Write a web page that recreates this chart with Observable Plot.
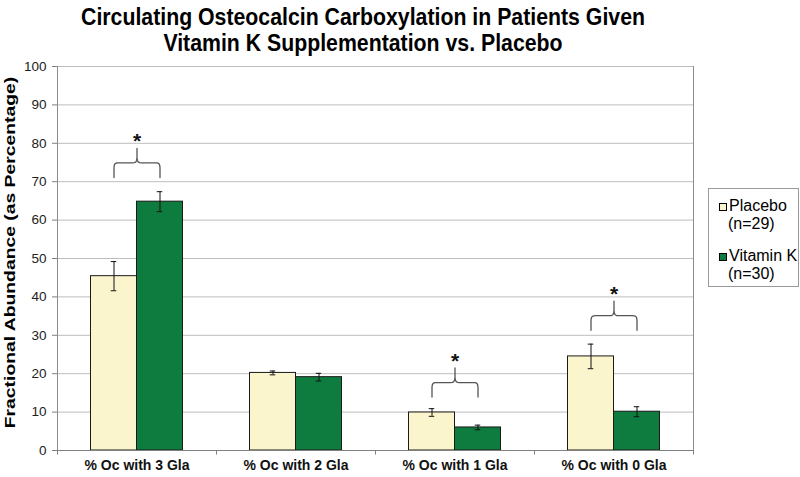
<!DOCTYPE html>
<html>
<head>
<meta charset="utf-8">
<script src="https://cdn.jsdelivr.net/npm/d3@7"></script>
<script src="https://cdn.jsdelivr.net/npm/@observablehq/plot@0.6"></script>
<style>
  body { margin: 0; background: #fff; font-family: "Liberation Sans", Arial, sans-serif; }
  #wrap { position: relative; width: 800px; height: 477px; overflow: hidden; background: #fff; }
  #chart { position: absolute; left: 0; top: 0; }
  #title { position: absolute; left: 13px; top: 4px; width: 700px; text-align: center;
           font-weight: bold; font-size: 23px; line-height: 26px; color: #000; white-space: nowrap;
           transform: scaleX(0.925); transform-origin: 50% 50%; }
  #ylabel { position: absolute; left: -170px; top: 244px; width: 360px; height: 17px; line-height: 17px;
            text-align: center; font-weight: bold; font-size: 14px; color: #000; white-space: nowrap;
            transform: rotate(-90deg) scale(1.38, 1); transform-origin: 50% 50%; }
  #legend { position: absolute; left: 708px; top: 188px; width: 89px; height: 97px;
            border: 1px solid #9a9a9a; background: #fff; }
  #legend .sw { position: absolute; width: 6px; height: 6px; border: 1px solid #000; }
  #legend .tx { position: absolute; font-size: 16px; line-height: 18px; color: #000; white-space: nowrap; }
</style>
</head>
<body>
<div id="wrap">
  <div id="chart"></div>
  <div id="title">Circulating Osteocalcin Carboxylation in Patients Given<br>Vitamin K Supplementation vs. Placebo</div>
  <div id="ylabel">Fractional Abundance (as Percentage)</div>
  <div id="legend"></div>
</div>
<script>
// ---- data ----
const groups = ["% Oc with 3 Gla", "% Oc with 2 Gla", "% Oc with 1 Gla", "% Oc with 0 Gla"];
const series = ["Placebo", "Vitamin K"];
const seriesN = ["(n=29)", "(n=30)"];
const placebo = [45.4, 20.2, 9.9, 24.5];
const placeboErr = [3.8, 0.5, 1.0, 3.2];
const vitaminK = [64.8, 19.1, 6.0, 10.1];
const vitaminKErr = [2.6, 1.0, 0.6, 1.3];
const sigGroups = ["% Oc with 3 Gla", "% Oc with 1 Gla", "% Oc with 0 Gla"];
const braceBase = [71.1, 13.9, 31.3];
const yTicks = [0, 10, 20, 30, 40, 50, 60, 70, 80, 90, 100];

// ---- styles ----
const colors = ["#FBF5CE", "#0F7C3F"];
const H = 159 / 92; // half-width of each group's x domain, in bar units

const rows = [];
groups.forEach((g, gi) => {
  rows.push({group: g, si: 0, series: series[0], value: placebo[gi], err: placeboErr[gi]});
  rows.push({group: g, si: 1, series: series[1], value: vitaminK[gi], err: vitaminKErr[gi]});
});

// brace glyph template (x in bar units, y offset in data units)
const braceShape = [
  [0.5, 0], [0.5, 2.6], [0.507, 3.2], [0.525, 3.6], [0.56, 3.78], [0.6, 3.8],
  [0.9, 3.8], [0.945, 3.85], [0.975, 4.05], [0.993, 4.5], [1.0, 5.2], [1.0, 7.6],
  [1.0, 5.2], [1.007, 4.5], [1.025, 4.05], [1.055, 3.85], [1.1, 3.8],
  [1.4, 3.8], [1.44, 3.78], [1.475, 3.6], [1.493, 3.2], [1.5, 2.6], [1.5, 0]
];
const bracePts = [];
sigGroups.forEach((g, i) => braceShape.forEach(([x, dy]) => bracePts.push({group: g, x, y: braceBase[i] + dy})));
const stars = sigGroups.map((g, i) => ({group: g, y: braceBase[i] + 9.4}));

const chart = Plot.plot({
  width: 800,
  height: 477,
  marginLeft: 57,
  marginRight: 107,
  marginTop: 66,
  marginBottom: 27,
  style: {fontFamily: "'Liberation Sans', Arial, sans-serif", color: "#222", background: "transparent", overflow: "visible"},
  fx: {domain: groups, padding: 0, label: null},
  x: {domain: [1 - H, 1 + H], axis: null},
  y: {domain: [0, 100], label: null},
  color: {domain: series, range: colors},
  marks: [
    Plot.ruleY(yTicks.filter(t => t > 0), {y: d => d, stroke: "#bdbdbd", strokeWidth: 1}),
    Plot.rectY(rows, {fx: "group", x1: d => d.si, x2: d => d.si + 1, y1: 0, y2: "value",
      fill: "series", stroke: "#1a1a1a", strokeWidth: 1}),
    Plot.ruleX(rows, {fx: "group", x: d => d.si + 0.5, y1: d => d.value - d.err, y2: d => d.value + d.err,
      stroke: "#111", strokeWidth: 1}),
    Plot.ruleY(rows, {fx: "group", x1: d => d.si + 0.44, x2: d => d.si + 0.56, y: d => d.value + d.err, stroke: "#111"}),
    Plot.ruleY(rows, {fx: "group", x1: d => d.si + 0.44, x2: d => d.si + 0.56, y: d => d.value - d.err, stroke: "#111"}),
    Plot.line(bracePts, {fx: "group", x: "x", y: "y", z: "group", stroke: "#555", strokeWidth: 1.3}),
    Plot.text(stars, {fx: "group", x: 1, y: "y", text: () => "*", fontSize: 21, fontWeight: "bold", fill: "#111"}),
    // plot frame and bottom axis
    Plot.ruleX([groups[0]], {fx: d => d, x: 1 - H, y1: 0, y2: 100, stroke: "#8c8c8c"}),
    Plot.ruleX([groups[groups.length - 1]], {fx: d => d, x: 1 + H, y1: 0, y2: 100, stroke: "#8c8c8c"}),
    Plot.ruleX(groups, {fx: d => d, x: 1 - H, y1: 0, y2: -1.2, stroke: "#808080"}),
    Plot.ruleX([groups[groups.length - 1]], {fx: d => d, x: 1 + H, y1: 0, y2: -1.2, stroke: "#808080"}),
    Plot.ruleY([0], {stroke: "#808080"}),
    Plot.axisY({ticks: yTicks, tickSize: 5, tickPadding: 6, fontSize: 13.5, label: null, stroke: "#808080", fill: "#222"}),
    Plot.axisFx({anchor: "bottom", tickSize: 0, tickPadding: 10, fontSize: 14, fontWeight: "bold", label: null, fill: "#111"})
  ]
});
document.getElementById("chart").appendChild(chart);

// legend (HTML, outside the SVG plot area)
const legend = document.getElementById("legend");
const itemTop = [0, 50];
series.forEach((s, i) => {
  const sw = document.createElement("div");
  sw.className = "sw";
  sw.style.left = "10px";
  sw.style.top = (14 + itemTop[i]) + "px";
  sw.style.background = colors[i];
  legend.appendChild(sw);
  const t1 = document.createElement("div");
  t1.className = "tx";
  t1.style.left = "20px";
  t1.style.top = (7.5 + itemTop[i]) + "px";
  t1.textContent = s;
  legend.appendChild(t1);
  const t2 = document.createElement("div");
  t2.className = "tx";
  t2.style.left = "19px";
  t2.style.top = (25.5 + itemTop[i]) + "px";
  t2.textContent = seriesN[i];
  legend.appendChild(t2);
});
</script>
</body>
</html>
